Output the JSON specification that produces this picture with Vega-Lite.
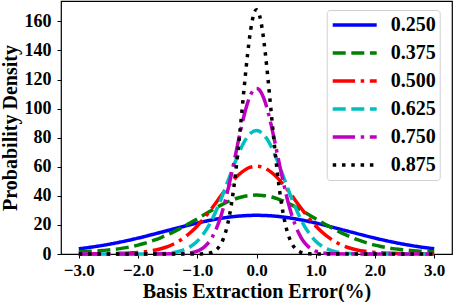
{
  "$schema": "https://vega.github.io/schema/vega-lite/v6.json",
  "width": 391,
  "height": 253,
  "autosize": {"type": "none"},
  "padding": {"left": 61, "top": 1, "right": 2, "bottom": 48},
  "config": {
    "view": {"stroke": "#000000", "strokeWidth": 1.2},
    "font": "Liberation Serif",
    "axis": {
      "domain": false,
      "grid": false,
      "tickColor": "#000000",
      "tickSize": 4,
      "tickWidth": 1,
      "labelFont": "Liberation Serif",
      "labelFontSize": 18,
      "labelFontWeight": "bold",
      "labelColor": "#000000",
      "titleFont": "Liberation Serif",
      "titleFontSize": 20,
      "titleFontWeight": "bold",
      "titleColor": "#000000"
    }
  },
  "data": {
    "values": [
      {"error": -3.0, "ratio": "0.250", "density": 3.60},
      {"error": -2.9, "ratio": "0.250", "density": 4.10},
      {"error": -2.8, "ratio": "0.250", "density": 4.66},
      {"error": -2.7, "ratio": "0.250", "density": 5.26},
      {"error": -2.6, "ratio": "0.250", "density": 5.92},
      {"error": -2.5, "ratio": "0.250", "density": 6.63},
      {"error": -2.4, "ratio": "0.250", "density": 7.39},
      {"error": -2.3, "ratio": "0.250", "density": 8.21},
      {"error": -2.2, "ratio": "0.250", "density": 9.07},
      {"error": -2.1, "ratio": "0.250", "density": 9.98},
      {"error": -2.0, "ratio": "0.250", "density": 10.93},
      {"error": -1.9, "ratio": "0.250", "density": 11.92},
      {"error": -1.8, "ratio": "0.250", "density": 12.95},
      {"error": -1.7, "ratio": "0.250", "density": 13.99},
      {"error": -1.6, "ratio": "0.250", "density": 15.06},
      {"error": -1.5, "ratio": "0.250", "density": 16.13},
      {"error": -1.4, "ratio": "0.250", "density": 17.21},
      {"error": -1.3, "ratio": "0.250", "density": 18.27},
      {"error": -1.2, "ratio": "0.250", "density": 19.31},
      {"error": -1.1, "ratio": "0.250", "density": 20.33},
      {"error": -1.0, "ratio": "0.250", "density": 21.30},
      {"error": -0.9, "ratio": "0.250", "density": 22.21},
      {"error": -0.8, "ratio": "0.250", "density": 23.07},
      {"error": -0.7, "ratio": "0.250", "density": 23.85},
      {"error": -0.6, "ratio": "0.250", "density": 24.55},
      {"error": -0.5, "ratio": "0.250", "density": 25.16},
      {"error": -0.4, "ratio": "0.250", "density": 25.67},
      {"error": -0.3, "ratio": "0.250", "density": 26.07},
      {"error": -0.2, "ratio": "0.250", "density": 26.36},
      {"error": -0.1, "ratio": "0.250", "density": 26.54},
      {"error": 0.0, "ratio": "0.250", "density": 26.60},
      {"error": 0.1, "ratio": "0.250", "density": 26.54},
      {"error": 0.2, "ratio": "0.250", "density": 26.36},
      {"error": 0.3, "ratio": "0.250", "density": 26.07},
      {"error": 0.4, "ratio": "0.250", "density": 25.67},
      {"error": 0.5, "ratio": "0.250", "density": 25.16},
      {"error": 0.6, "ratio": "0.250", "density": 24.55},
      {"error": 0.7, "ratio": "0.250", "density": 23.85},
      {"error": 0.8, "ratio": "0.250", "density": 23.07},
      {"error": 0.9, "ratio": "0.250", "density": 22.21},
      {"error": 1.0, "ratio": "0.250", "density": 21.30},
      {"error": 1.1, "ratio": "0.250", "density": 20.33},
      {"error": 1.2, "ratio": "0.250", "density": 19.31},
      {"error": 1.3, "ratio": "0.250", "density": 18.27},
      {"error": 1.4, "ratio": "0.250", "density": 17.21},
      {"error": 1.5, "ratio": "0.250", "density": 16.13},
      {"error": 1.6, "ratio": "0.250", "density": 15.06},
      {"error": 1.7, "ratio": "0.250", "density": 13.99},
      {"error": 1.8, "ratio": "0.250", "density": 12.95},
      {"error": 1.9, "ratio": "0.250", "density": 11.92},
      {"error": 2.0, "ratio": "0.250", "density": 10.93},
      {"error": 2.1, "ratio": "0.250", "density": 9.98},
      {"error": 2.2, "ratio": "0.250", "density": 9.07},
      {"error": 2.3, "ratio": "0.250", "density": 8.21},
      {"error": 2.4, "ratio": "0.250", "density": 7.39},
      {"error": 2.5, "ratio": "0.250", "density": 6.63},
      {"error": 2.6, "ratio": "0.250", "density": 5.92},
      {"error": 2.7, "ratio": "0.250", "density": 5.26},
      {"error": 2.8, "ratio": "0.250", "density": 4.66},
      {"error": 2.9, "ratio": "0.250", "density": 4.10},
      {"error": 3.0, "ratio": "0.250", "density": 3.60},

      {"error": -3.0, "ratio": "0.375", "density": 1.5},
      {"error": -2.9, "ratio": "0.375", "density": 1.7},
      {"error": -2.8, "ratio": "0.375", "density": 1.9},
      {"error": -2.7, "ratio": "0.375", "density": 2.1},
      {"error": -2.6, "ratio": "0.375", "density": 2.4},
      {"error": -2.5, "ratio": "0.375", "density": 2.8},
      {"error": -2.4, "ratio": "0.375", "density": 3.2},
      {"error": -2.3, "ratio": "0.375", "density": 3.7},
      {"error": -2.2, "ratio": "0.375", "density": 4.4},
      {"error": -2.1, "ratio": "0.375", "density": 5.2},
      {"error": -2.0, "ratio": "0.375", "density": 6.1},
      {"error": -1.9, "ratio": "0.375", "density": 7.2},
      {"error": -1.8, "ratio": "0.375", "density": 8.5},
      {"error": -1.7, "ratio": "0.375", "density": 9.9},
      {"error": -1.6, "ratio": "0.375", "density": 11.5},
      {"error": -1.5, "ratio": "0.375", "density": 13.3},
      {"error": -1.4, "ratio": "0.375", "density": 15.2},
      {"error": -1.3, "ratio": "0.375", "density": 17.3},
      {"error": -1.2, "ratio": "0.375", "density": 19.5},
      {"error": -1.1, "ratio": "0.375", "density": 21.8},
      {"error": -1.0, "ratio": "0.375", "density": 24.2},
      {"error": -0.9, "ratio": "0.375", "density": 26.6},
      {"error": -0.8, "ratio": "0.375", "density": 29.0},
      {"error": -0.7, "ratio": "0.375", "density": 31.4},
      {"error": -0.6, "ratio": "0.375", "density": 33.6},
      {"error": -0.5, "ratio": "0.375", "density": 35.6},
      {"error": -0.4, "ratio": "0.375", "density": 37.3},
      {"error": -0.3, "ratio": "0.375", "density": 38.7},
      {"error": -0.2, "ratio": "0.375", "density": 39.7},
      {"error": -0.1, "ratio": "0.375", "density": 40.3},
      {"error": 0.0, "ratio": "0.375", "density": 40.5},
      {"error": 0.1, "ratio": "0.375", "density": 40.3},
      {"error": 0.2, "ratio": "0.375", "density": 39.7},
      {"error": 0.3, "ratio": "0.375", "density": 38.7},
      {"error": 0.4, "ratio": "0.375", "density": 37.3},
      {"error": 0.5, "ratio": "0.375", "density": 35.6},
      {"error": 0.6, "ratio": "0.375", "density": 33.6},
      {"error": 0.7, "ratio": "0.375", "density": 31.4},
      {"error": 0.8, "ratio": "0.375", "density": 29.0},
      {"error": 0.9, "ratio": "0.375", "density": 26.6},
      {"error": 1.0, "ratio": "0.375", "density": 24.2},
      {"error": 1.1, "ratio": "0.375", "density": 21.8},
      {"error": 1.2, "ratio": "0.375", "density": 19.5},
      {"error": 1.3, "ratio": "0.375", "density": 17.3},
      {"error": 1.4, "ratio": "0.375", "density": 15.2},
      {"error": 1.5, "ratio": "0.375", "density": 13.3},
      {"error": 1.6, "ratio": "0.375", "density": 11.5},
      {"error": 1.7, "ratio": "0.375", "density": 9.9},
      {"error": 1.8, "ratio": "0.375", "density": 8.5},
      {"error": 1.9, "ratio": "0.375", "density": 7.2},
      {"error": 2.0, "ratio": "0.375", "density": 6.1},
      {"error": 2.1, "ratio": "0.375", "density": 5.2},
      {"error": 2.2, "ratio": "0.375", "density": 4.4},
      {"error": 2.3, "ratio": "0.375", "density": 3.7},
      {"error": 2.4, "ratio": "0.375", "density": 3.2},
      {"error": 2.5, "ratio": "0.375", "density": 2.8},
      {"error": 2.6, "ratio": "0.375", "density": 2.4},
      {"error": 2.7, "ratio": "0.375", "density": 2.1},
      {"error": 2.8, "ratio": "0.375", "density": 1.9},
      {"error": 2.9, "ratio": "0.375", "density": 1.7},
      {"error": 3.0, "ratio": "0.375", "density": 1.5},

      {"error": -3.0, "ratio": "0.500", "density": 0.05},
      {"error": -2.5, "ratio": "0.500", "density": 0.25},
      {"error": -2.4, "ratio": "0.500", "density": 0.35},
      {"error": -2.3, "ratio": "0.500", "density": 0.45},
      {"error": -2.2, "ratio": "0.500", "density": 0.6},
      {"error": -2.1, "ratio": "0.500", "density": 0.8},
      {"error": -2.0, "ratio": "0.500", "density": 1.1},
      {"error": -1.9, "ratio": "0.500", "density": 1.5},
      {"error": -1.8, "ratio": "0.500", "density": 2.0},
      {"error": -1.7, "ratio": "0.500", "density": 2.8},
      {"error": -1.6, "ratio": "0.500", "density": 3.8},
      {"error": -1.5, "ratio": "0.500", "density": 5.1},
      {"error": -1.4, "ratio": "0.500", "density": 6.9},
      {"error": -1.3, "ratio": "0.500", "density": 9.1},
      {"error": -1.2, "ratio": "0.500", "density": 11.9},
      {"error": -1.1, "ratio": "0.500", "density": 15.3},
      {"error": -1.0, "ratio": "0.500", "density": 19.3},
      {"error": -0.9, "ratio": "0.500", "density": 23.9},
      {"error": -0.8, "ratio": "0.500", "density": 29.0},
      {"error": -0.7, "ratio": "0.500", "density": 34.4},
      {"error": -0.6, "ratio": "0.500", "density": 40.0},
      {"error": -0.5, "ratio": "0.500", "density": 45.3},
      {"error": -0.4, "ratio": "0.500", "density": 50.3},
      {"error": -0.3, "ratio": "0.500", "density": 54.5},
      {"error": -0.2, "ratio": "0.500", "density": 57.7},
      {"error": -0.1, "ratio": "0.500", "density": 59.7},
      {"error": 0.0, "ratio": "0.500", "density": 60.4},
      {"error": 0.1, "ratio": "0.500", "density": 59.7},
      {"error": 0.2, "ratio": "0.500", "density": 57.7},
      {"error": 0.3, "ratio": "0.500", "density": 54.5},
      {"error": 0.4, "ratio": "0.500", "density": 50.3},
      {"error": 0.5, "ratio": "0.500", "density": 45.3},
      {"error": 0.6, "ratio": "0.500", "density": 40.0},
      {"error": 0.7, "ratio": "0.500", "density": 34.4},
      {"error": 0.8, "ratio": "0.500", "density": 29.0},
      {"error": 0.9, "ratio": "0.500", "density": 23.9},
      {"error": 1.0, "ratio": "0.500", "density": 19.3},
      {"error": 1.1, "ratio": "0.500", "density": 15.3},
      {"error": 1.2, "ratio": "0.500", "density": 11.9},
      {"error": 1.3, "ratio": "0.500", "density": 9.1},
      {"error": 1.4, "ratio": "0.500", "density": 6.9},
      {"error": 1.5, "ratio": "0.500", "density": 5.1},
      {"error": 1.6, "ratio": "0.500", "density": 3.8},
      {"error": 1.7, "ratio": "0.500", "density": 2.8},
      {"error": 1.8, "ratio": "0.500", "density": 2.0},
      {"error": 1.9, "ratio": "0.500", "density": 1.5},
      {"error": 2.0, "ratio": "0.500", "density": 1.1},
      {"error": 2.1, "ratio": "0.500", "density": 0.8},
      {"error": 2.2, "ratio": "0.500", "density": 0.6},
      {"error": 2.3, "ratio": "0.500", "density": 0.45},
      {"error": 2.4, "ratio": "0.500", "density": 0.35},
      {"error": 2.5, "ratio": "0.500", "density": 0.25},
      {"error": 3.0, "ratio": "0.500", "density": 0.05},

      {"error": -3.0, "ratio": "0.625", "density": 0.0},
      {"error": -1.8, "ratio": "0.625", "density": 0.06},
      {"error": -1.6, "ratio": "0.625", "density": 0.26},
      {"error": -1.5, "ratio": "0.625", "density": 0.5},
      {"error": -1.4, "ratio": "0.625", "density": 1.0},
      {"error": -1.3, "ratio": "0.625", "density": 1.9},
      {"error": -1.2, "ratio": "0.625", "density": 3.3},
      {"error": -1.1, "ratio": "0.625", "density": 5.5},
      {"error": -1.0, "ratio": "0.625", "density": 8.8},
      {"error": -0.9, "ratio": "0.625", "density": 13.6},
      {"error": -0.8, "ratio": "0.625", "density": 19.9},
      {"error": -0.7, "ratio": "0.625", "density": 28.0},
      {"error": -0.6, "ratio": "0.625", "density": 37.6},
      {"error": -0.5, "ratio": "0.625", "density": 48.2},
      {"error": -0.4, "ratio": "0.625", "density": 59.1},
      {"error": -0.3, "ratio": "0.625", "density": 69.3},
      {"error": -0.2, "ratio": "0.625", "density": 77.6},
      {"error": -0.1, "ratio": "0.625", "density": 83.0},
      {"error": 0.0, "ratio": "0.625", "density": 84.9},
      {"error": 0.1, "ratio": "0.625", "density": 83.0},
      {"error": 0.2, "ratio": "0.625", "density": 77.6},
      {"error": 0.3, "ratio": "0.625", "density": 69.3},
      {"error": 0.4, "ratio": "0.625", "density": 59.1},
      {"error": 0.5, "ratio": "0.625", "density": 48.2},
      {"error": 0.6, "ratio": "0.625", "density": 37.6},
      {"error": 0.7, "ratio": "0.625", "density": 28.0},
      {"error": 0.8, "ratio": "0.625", "density": 19.9},
      {"error": 0.9, "ratio": "0.625", "density": 13.6},
      {"error": 1.0, "ratio": "0.625", "density": 8.8},
      {"error": 1.1, "ratio": "0.625", "density": 5.5},
      {"error": 1.2, "ratio": "0.625", "density": 3.3},
      {"error": 1.3, "ratio": "0.625", "density": 1.9},
      {"error": 1.4, "ratio": "0.625", "density": 1.0},
      {"error": 1.5, "ratio": "0.625", "density": 0.5},
      {"error": 1.6, "ratio": "0.625", "density": 0.26},
      {"error": 1.8, "ratio": "0.625", "density": 0.06},
      {"error": 3.0, "ratio": "0.625", "density": 0.0},

      {"error": -3.0, "ratio": "0.750", "density": 0.0},
      {"error": -1.3, "ratio": "0.750", "density": 0.11},
      {"error": -1.2, "ratio": "0.750", "density": 0.32},
      {"error": -1.1, "ratio": "0.750", "density": 0.82},
      {"error": -1.0, "ratio": "0.750", "density": 1.9},
      {"error": -0.95, "ratio": "0.750", "density": 2.9},
      {"error": -0.9, "ratio": "0.750", "density": 4.2},
      {"error": -0.85, "ratio": "0.750", "density": 6.0},
      {"error": -0.8, "ratio": "0.750", "density": 8.4},
      {"error": -0.75, "ratio": "0.750", "density": 11.5},
      {"error": -0.7, "ratio": "0.750", "density": 15.4},
      {"error": -0.65, "ratio": "0.750", "density": 20.3},
      {"error": -0.6, "ratio": "0.750", "density": 26.2},
      {"error": -0.55, "ratio": "0.750", "density": 33.2},
      {"error": -0.5, "ratio": "0.750", "density": 41.1},
      {"error": -0.45, "ratio": "0.750", "density": 49.9},
      {"error": -0.4, "ratio": "0.750", "density": 59.3},
      {"error": -0.35, "ratio": "0.750", "density": 69.1},
      {"error": -0.3, "ratio": "0.750", "density": 79.0},
      {"error": -0.25, "ratio": "0.750", "density": 88.3},
      {"error": -0.2, "ratio": "0.750", "density": 96.8},
      {"error": -0.15, "ratio": "0.750", "density": 104.0},
      {"error": -0.1, "ratio": "0.750", "density": 109.4},
      {"error": -0.05, "ratio": "0.750", "density": 112.8},
      {"error": 0.0, "ratio": "0.750", "density": 114.0},
      {"error": 0.05, "ratio": "0.750", "density": 112.8},
      {"error": 0.1, "ratio": "0.750", "density": 109.4},
      {"error": 0.15, "ratio": "0.750", "density": 104.0},
      {"error": 0.2, "ratio": "0.750", "density": 96.8},
      {"error": 0.25, "ratio": "0.750", "density": 88.3},
      {"error": 0.3, "ratio": "0.750", "density": 79.0},
      {"error": 0.35, "ratio": "0.750", "density": 69.1},
      {"error": 0.4, "ratio": "0.750", "density": 59.3},
      {"error": 0.45, "ratio": "0.750", "density": 49.9},
      {"error": 0.5, "ratio": "0.750", "density": 41.1},
      {"error": 0.55, "ratio": "0.750", "density": 33.2},
      {"error": 0.6, "ratio": "0.750", "density": 26.2},
      {"error": 0.65, "ratio": "0.750", "density": 20.3},
      {"error": 0.7, "ratio": "0.750", "density": 15.4},
      {"error": 0.75, "ratio": "0.750", "density": 11.5},
      {"error": 0.8, "ratio": "0.750", "density": 8.4},
      {"error": 0.85, "ratio": "0.750", "density": 6.0},
      {"error": 0.9, "ratio": "0.750", "density": 4.2},
      {"error": 0.95, "ratio": "0.750", "density": 2.9},
      {"error": 1.0, "ratio": "0.750", "density": 1.9},
      {"error": 1.1, "ratio": "0.750", "density": 0.82},
      {"error": 1.2, "ratio": "0.750", "density": 0.32},
      {"error": 1.3, "ratio": "0.750", "density": 0.11},
      {"error": 3.0, "ratio": "0.750", "density": 0.0},

      {"error": -3.0, "ratio": "0.875", "density": 0.0},
      {"error": -1.0, "ratio": "0.875", "density": 0.02},
      {"error": -0.95, "ratio": "0.875", "density": 0.06},
      {"error": -0.9, "ratio": "0.875", "density": 0.13},
      {"error": -0.85, "ratio": "0.875", "density": 0.28},
      {"error": -0.8, "ratio": "0.875", "density": 0.58},
      {"error": -0.75, "ratio": "0.875", "density": 1.15},
      {"error": -0.7, "ratio": "0.875", "density": 2.2},
      {"error": -0.65, "ratio": "0.875", "density": 4.0},
      {"error": -0.6, "ratio": "0.875", "density": 6.9},
      {"error": -0.55, "ratio": "0.875", "density": 11.5},
      {"error": -0.5, "ratio": "0.875", "density": 18.3},
      {"error": -0.45, "ratio": "0.875", "density": 27.9},
      {"error": -0.4, "ratio": "0.875", "density": 40.7},
      {"error": -0.35, "ratio": "0.875", "density": 56.7},
      {"error": -0.3, "ratio": "0.875", "density": 75.7},
      {"error": -0.25, "ratio": "0.875", "density": 96.5},
      {"error": -0.2, "ratio": "0.875", "density": 117.9},
      {"error": -0.15, "ratio": "0.875", "density": 137.6},
      {"error": -0.1, "ratio": "0.875", "density": 153.8},
      {"error": -0.05, "ratio": "0.875", "density": 164.3},
      {"error": 0.0, "ratio": "0.875", "density": 168.0},
      {"error": 0.05, "ratio": "0.875", "density": 164.3},
      {"error": 0.1, "ratio": "0.875", "density": 153.8},
      {"error": 0.15, "ratio": "0.875", "density": 137.6},
      {"error": 0.2, "ratio": "0.875", "density": 117.9},
      {"error": 0.25, "ratio": "0.875", "density": 96.5},
      {"error": 0.3, "ratio": "0.875", "density": 75.7},
      {"error": 0.35, "ratio": "0.875", "density": 56.7},
      {"error": 0.4, "ratio": "0.875", "density": 40.7},
      {"error": 0.45, "ratio": "0.875", "density": 27.9},
      {"error": 0.5, "ratio": "0.875", "density": 18.3},
      {"error": 0.55, "ratio": "0.875", "density": 11.5},
      {"error": 0.6, "ratio": "0.875", "density": 6.9},
      {"error": 0.65, "ratio": "0.875", "density": 4.0},
      {"error": 0.7, "ratio": "0.875", "density": 2.2},
      {"error": 0.75, "ratio": "0.875", "density": 1.15},
      {"error": 0.8, "ratio": "0.875", "density": 0.58},
      {"error": 0.85, "ratio": "0.875", "density": 0.28},
      {"error": 0.9, "ratio": "0.875", "density": 0.13},
      {"error": 0.95, "ratio": "0.875", "density": 0.06},
      {"error": 1.0, "ratio": "0.875", "density": 0.02},
      {"error": 3.0, "ratio": "0.875", "density": 0.0}
    ]
  },
  "mark": {"type": "line", "strokeWidth": 3.5, "interpolate": "monotone", "strokeCap": "butt"},
  "encoding": {
    "x": {
      "field": "error",
      "type": "quantitative",
      "scale": {"domain": [-3.3, 3.3], "nice": false, "zero": false},
      "axis": {
        "title": "Basis Extraction Error(%)",
        "values": [-3, -2, -1, 0, 1, 2, 3],
        "format": ".1f",
        "labelFontSize": 17,
        "labelPadding": 4,
        "titleBaseline": "alphabetic",
        "titleY": 43.5
      }
    },
    "y": {
      "field": "density",
      "type": "quantitative",
      "scale": {"domain": [0, 174], "nice": false},
      "axis": {
        "title": "Probability Density",
        "values": [0, 20, 40, 60, 80, 100, 120, 140, 160],
        "format": "d",
        "labelPadding": 6,
        "titleAngle": -90,
        "titleBaseline": "alphabetic",
        "titleX": -45,
        "titleY": 126.5,
        "titleAnchor": "middle"
      }
    },
    "color": {
      "field": "ratio",
      "type": "nominal",
      "scale": {
        "domain": ["0.250", "0.375", "0.500", "0.625", "0.750", "0.875"],
        "range": ["#0000ff", "#008000", "#ff0000", "#00bfbf", "#bf00bf", "#000000"]
      },
      "legend": {
        "title": null,
        "orient": "none",
        "legendX": 265.7,
        "legendY": 9,
        "padding": 4,
        "symbolType": "stroke",
        "symbolSize": 1936,
        "symbolStrokeWidth": 3.5,
        "labelFont": "Liberation Serif",
        "labelFontSize": 20,
        "labelFontWeight": "bold",
        "labelColor": "#000000",
        "labelOffset": 12,
        "clipHeight": 22,
        "rowPadding": 6,
        "strokeColor": "#d0d0d0",
        "fillColor": "#ffffff",
        "cornerRadius": 3
      }
    },
    "strokeDash": {
      "field": "ratio",
      "type": "nominal",
      "scale": {
        "domain": ["0.250", "0.375", "0.500", "0.625", "0.750", "0.875"],
        "range": [[1, 0], [13, 5.6], [22.4, 5.6, 3.5, 5.6], [13, 5.6], [22.4, 5.6, 3.5, 5.6], [3.5, 5.8]]
      },
      "legend": {
        "title": null,
        "orient": "none",
        "legendX": 265.7,
        "legendY": 9,
        "padding": 4,
        "symbolType": "stroke",
        "symbolSize": 1936,
        "symbolStrokeWidth": 3.5,
        "labelFont": "Liberation Serif",
        "labelFontSize": 20,
        "labelFontWeight": "bold",
        "labelColor": "#000000",
        "labelOffset": 12,
        "clipHeight": 22,
        "rowPadding": 6,
        "strokeColor": "#d0d0d0",
        "fillColor": "#ffffff",
        "cornerRadius": 3
      }
    }
  }
}
